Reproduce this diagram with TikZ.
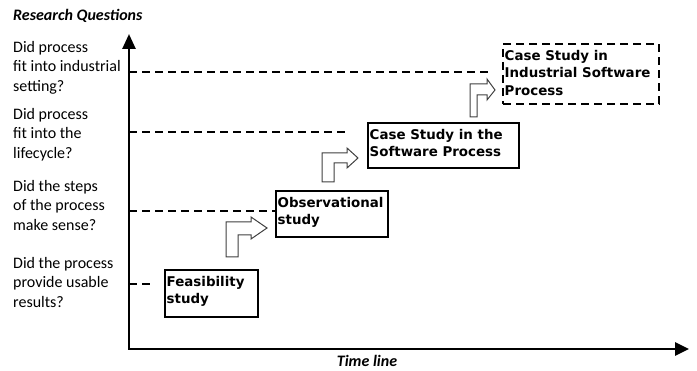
\documentclass[tikz,border=0pt]{standalone}
\usepackage{fontspec}
\setmainfont{Carlito}
\newfontfamily\boxfont{DejaVu Sans}
\usetikzlibrary{arrows.meta}
\begin{document}
\begin{tikzpicture}[x=1pt,y=-1pt,
  axis/.style={line width=2.6pt, line join=miter, {Triangle[length=15pt,width=13pt]}-{Triangle[length=14pt,width=13pt]}},
  guide/.style={line width=1.8pt, dash pattern=on 8pt off 5pt},
  stepbox/.style={draw, line width=1.8pt, inner sep=0pt, outer sep=0pt, anchor=north west},
  boxtext/.style={font={\boxfont\bfseries\fontsize{13.4}{17.3}\selectfont}, align=left, anchor=north west, inner sep=0pt},
  qtext/.style={font={\fontsize{16}{19.5}\selectfont}, align=left, anchor=north west, inner sep=0pt},
  titletext/.style={font={\bfseries\itshape\fontsize{16}{19}\selectfont}, inner sep=0pt},
  steparrow/.style={draw=black!75, line width=1pt, fill=white, line join=miter},
]
\useasboundingbox (0,0) rectangle (697,371);

% axes
\coordinate (O) at (129,349);
\coordinate (Ytop) at (129,34);
\coordinate (Xend) at (689,349);
\draw[axis] (Ytop) -- (O) -- (Xend);

% titles
\node[titletext, anchor=base west] (rq) at (13,21) {Research Questions};
\node[titletext, anchor=base] (tl) at (367,367) {Time line};

% questions
\node[qtext] (q1t) at (13,41) {Did process\\fit into industrial\\setting?};
\node[qtext] (q2t) at (13,108) {Did process\\fit into the\\lifecycle?};
\node[qtext] (q3t) at (13,180) {Did the steps\\of the process\\make sense?};
\node[qtext] (q4t) at (13,257) {Did the process\\provide usable\\results?};

% boxes
\node[stepbox, minimum width=93pt, minimum height=47pt] (fb) at (165,270) {};
\node[stepbox, minimum width=112pt, minimum height=46pt] (ob) at (276,191) {};
\node[stepbox, minimum width=151pt, minimum height=45pt] (cb) at (368,123) {};
\node[stepbox, dash pattern=on 8pt off 5pt, minimum width=156pt, minimum height=60pt] (ib) at (503,44) {};

\node[boxtext] (fbt) at ([shift={(1.5,6.2)}]fb.north west) {Feasibility\\study};
\node[boxtext] (obt) at ([shift={(1.5,6.2)}]ob.north west) {Observational\\study};
\node[boxtext] (cbt) at ([shift={(1.5,6.2)}]cb.north west) {Case Study in the\\Software Process};
\node[boxtext] (ibt) at ([shift={(1.5,6.2)}]ib.north west) {Case Study in\\Industrial Software\\Process};

% dashed guides
\coordinate (g1) at (129,72);  \coordinate (g1e) at (492,72);
\coordinate (g2) at (129,132); \coordinate (g2e) at (347,132);
\coordinate (g3) at (129,211);
\coordinate (g4) at (129,284); \coordinate (g4e) at (152,284);
\draw[guide] (g1) -- (g1e);
\draw[guide] (g2) -- (g2e);
\draw[guide] (g3) -- (g3 -| ob.west);
\draw[guide] (g4) -- (g4e);

% step arrows
\draw[steparrow] (226,257) -- (226,222) -- (251,222) -- (251,217) -- (267,228) -- (251,239) -- (251,235) -- (238,235) -- (238,257) -- cycle;
\draw[steparrow] (322,182) -- (322,153) -- (347,153) -- (347,148) -- (358,158) -- (347,168) -- (347,163) -- (334,163) -- (334,182) -- cycle;
\draw[steparrow] (470,117) -- (470,84) -- (487,84) -- (487,79) -- (495,90) -- (487,100) -- (487,95) -- (477,95) -- (477,117) -- cycle;
\end{tikzpicture}
\end{document}
